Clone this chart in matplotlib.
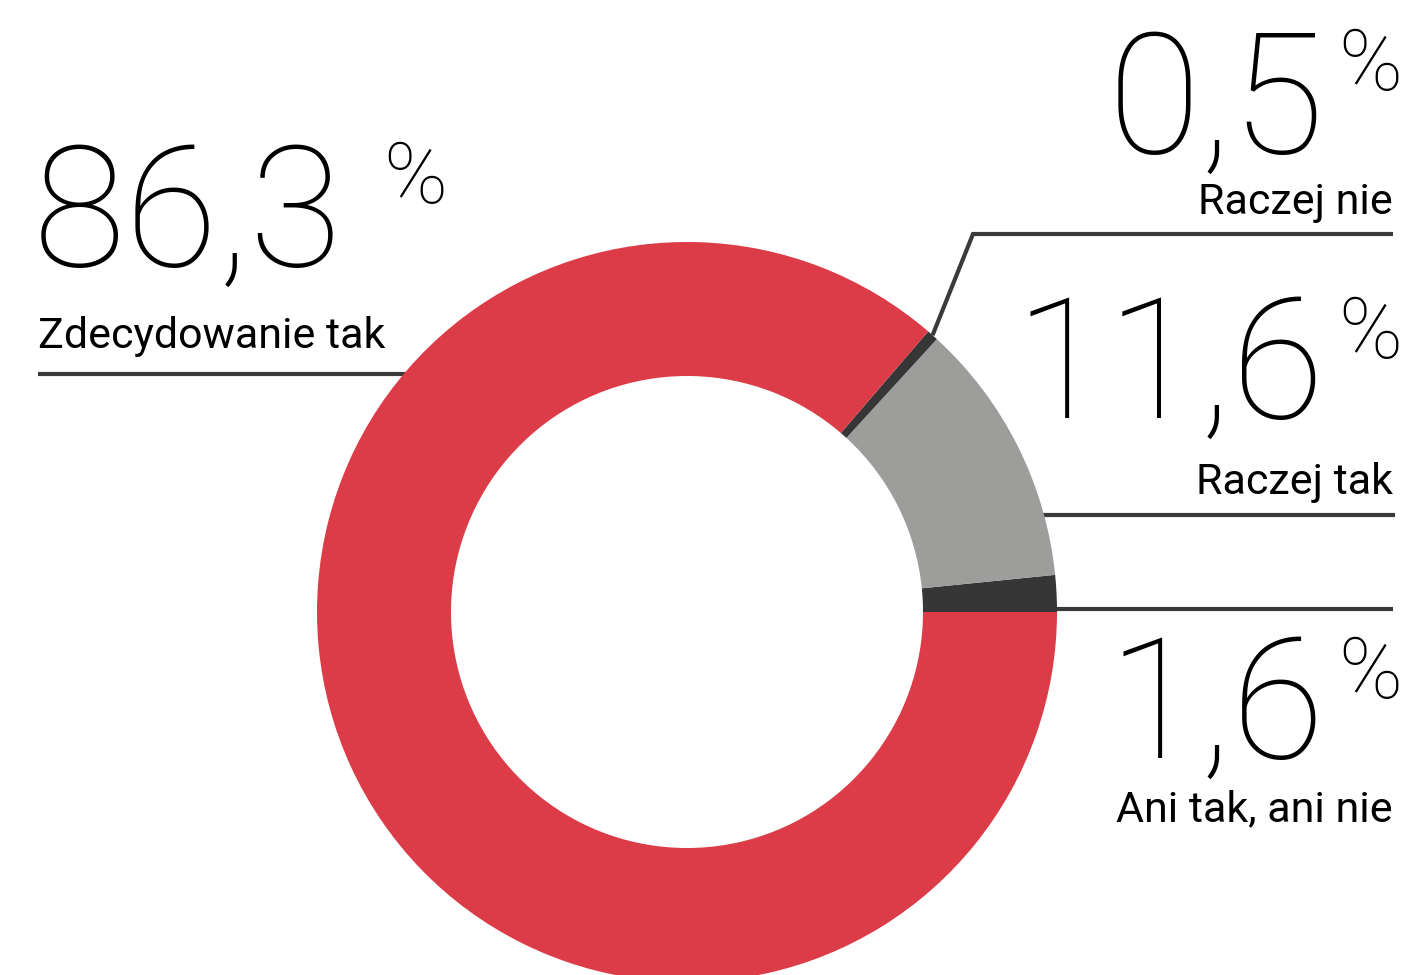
"""
Wykres pierścieniowy: odpowiedzi ankietowe
"""

import numpy as np
import matplotlib.pyplot as plt

# dane
labels = ['Ani tak, ani nie', 'Raczej tak', 'Raczej nie', 'Zdecydowanie tak']
values = [1.6, 11.6, 0.5, 86.3]
value_texts = ['1,6', '11,6', '0,5', '86,3']
colors = ['#363636', '#9d9d9c', '#363636', '#dc3c47']

W, H = 1420, 975
LINE = '#3a3a3a'
FONT = 'Roboto'


def py(y):
    # współrzędna y z pikseli (od góry) na dane (od dołu)
    return H - y


fig = plt.figure(figsize=(W / 100, H / 100), dpi=100)
ax = fig.add_axes([0, 0, 1, 1])

# linie odniesienia (pod pierścieniem)
ax.plot([38, 420], [py(374), py(374)], color=LINE, lw=3, zorder=1,
        solid_capstyle='butt')
ax.plot([1030, 1395], [py(515), py(515)], color=LINE, lw=3, zorder=1,
        solid_capstyle='butt')
ax.plot([1050, 1393], [py(609), py(609)], color=LINE, lw=3, zorder=1,
        solid_capstyle='butt')

# pierścień
cx, cy, r, width = 687, py(612), 370, 134
wedges, _ = ax.pie(values, colors=colors, startangle=0, counterclock=True,
                   center=(cx, cy), radius=r,
                   wedgeprops=dict(width=width, linewidth=0))
for w in wedges:
    w.set_zorder(2)

# linia łamana dla "Raczej nie" – od zewnętrznej krawędzi segmentu
w = wedges[2]
ang = np.deg2rad((w.theta1 + w.theta2) / 2)
ax_x, ax_y = cx + r * np.cos(ang), cy + r * np.sin(ang)
ax.plot([ax_x, 973, 1393], [ax_y, py(234), py(234)], color=LINE, lw=3,
        zorder=3, solid_joinstyle='miter', solid_capstyle='butt')

ax.set_xlim(0, W)
ax.set_ylim(0, H)
ax.set_aspect('equal')
ax.axis('off')

big = dict(fontsize=122, family=FONT, fontweight='light', color='black',
           va='baseline')
pct = dict(fontsize=62, family=FONT, fontweight='light', color='black',
           va='baseline', ha='left')
small = dict(fontsize=31, family=FONT, fontweight='normal', color='black',
             va='baseline')

# Zdecydowanie tak (lewa strona)
ax.text(33, py(266), value_texts[3], ha='left', **big)
ax.text(383, py(203), '%', **pct)
ax.text(38, py(348), labels[3], ha='left', **small)

# prawa strona
right_num = 1325
for i, (base, pbase, lbase) in zip([2, 1, 0],
                                   [(153, 90, 214), (418, 358, 494),
                                    (758, 698, 821)]):
    ax.text(right_num, py(base), value_texts[i], ha='right', **big)
    ax.text(1338, py(pbase), '%', **pct)
    ax.text(1393, py(lbase), labels[i], ha='right', **small)

fig.savefig('out.png', dpi=100)
